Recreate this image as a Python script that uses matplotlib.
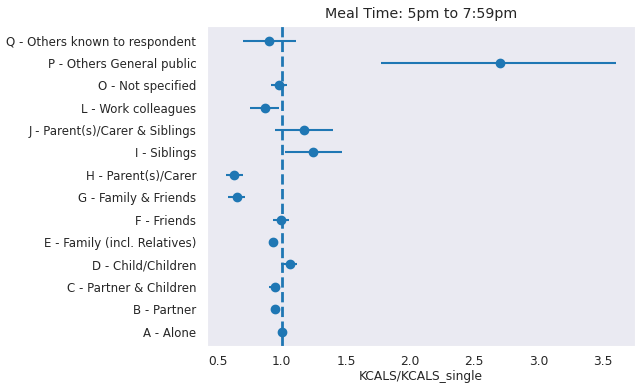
import numpy as np
import matplotlib.pyplot as plt
import seaborn as sns

sns.set_style("dark")

categories = ["A - Alone", "B - Partner", "C - Partner & Children", "D - Child/Children",
              "E - Family (incl. Relatives)", "F - Friends", "G - Family & Friends",
              "H - Parent(s)/Carer", "I - Siblings", "J - Parent(s)/Carer & Siblings",
              "L - Work colleagues", "O - Not specified", "P - Others General public",
              "Q - Others known to respondent"]
ratio = [1.00, 0.946, 0.946, 1.062, 0.932, 0.995, 0.652, 0.627, 1.243, 1.171,
         0.870, 0.979, 2.70, 0.904]
err_low = [0.015, 0.02, 0.047, 0.065, 0.012, 0.06, 0.072, 0.06, 0.22, 0.225,
           0.117, 0.06, 0.93, 0.203]
err_high = [0.015, 0.02, 0.035, 0.059, 0.012, 0.059, 0.063, 0.07, 0.226, 0.226,
            0.109, 0.065, 0.90, 0.21]

fig, ax = plt.subplots(figsize=(6.44, 3.88), dpi=100)
y = np.arange(len(categories))
ax.errorbar(ratio, y, xerr=[err_low, err_high], fmt="o", color="C0",
            markersize=6, elinewidth=1.5)
ax.axvline(1.0, color="C0", linestyle="--", linewidth=2)
ax.set_yticks(y)
ax.set_yticklabels(categories, fontsize=8.5)
ax.tick_params(axis="y", pad=4)
ax.tick_params(axis="x", labelsize=8.8, pad=3)
ax.set_xlabel("KCALS/KCALS_single", fontsize=8.8, labelpad=1)
ax.set_title("Meal Time: 5pm to 7:59pm", fontsize=10.3)
fig.subplots_adjust(left=0.321, right=0.986, top=0.933, bottom=0.108)
fig.savefig("out.png")
